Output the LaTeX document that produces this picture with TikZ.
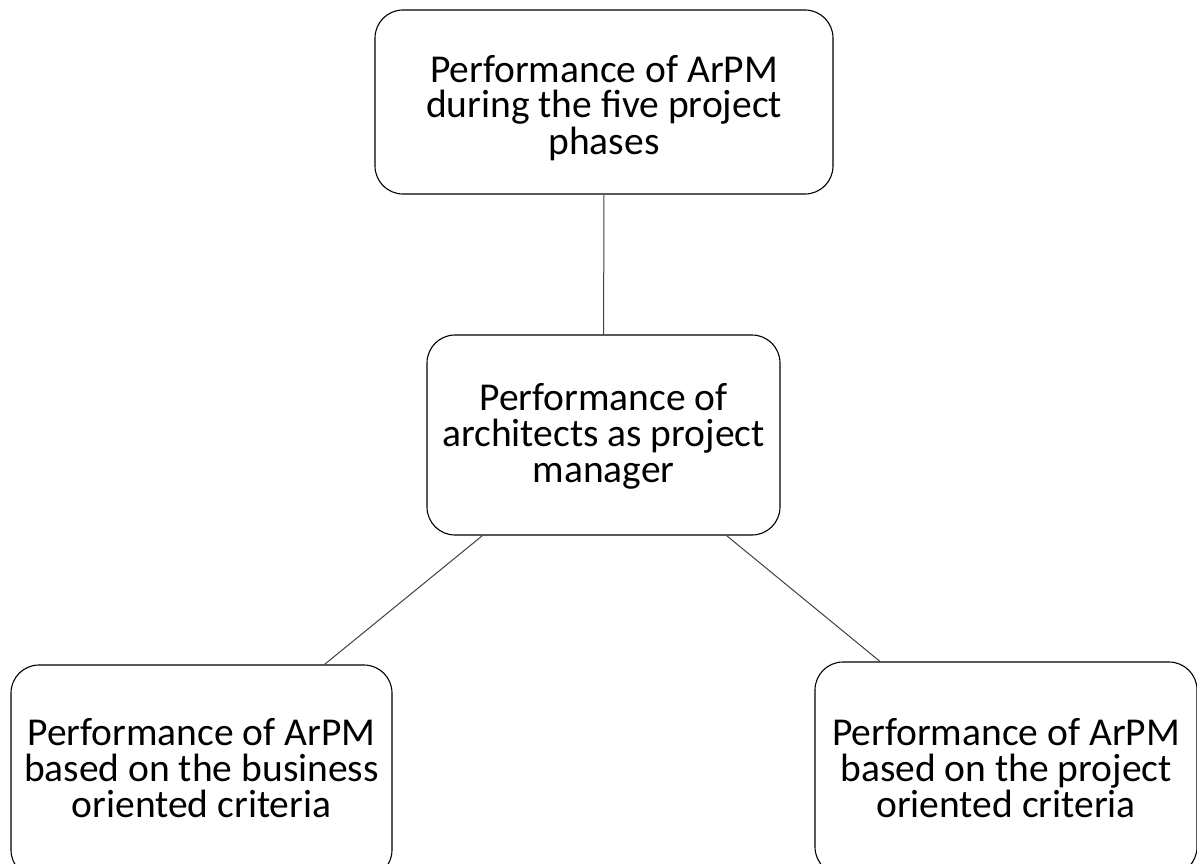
\documentclass[tikz,border=0pt]{standalone}
\usepackage{fontspec}
\setmainfont{Carlito}
\usetikzlibrary{calc}
\usetikzlibrary{positioning}

\begin{document}
\begin{tikzpicture}[
  x=1pt, y=-1pt,
  every path/.style={line width=1.1pt},
  perf/.style={draw, rounded corners=28pt, align=center, inner sep=0,
    font=\fontsize{39.5}{36}\selectfont, text depth=0pt},
  link/.style={draw=black!75, line width=1pt},
  auto
  ] %
    \useasboundingbox (0,0) rectangle (1197,864);
    \node[perf, minimum width=458pt, minimum height=184pt, text height=104pt](phases) at (604,102)
      {Performance of ArPM\\during the five project\\phases};
    \node[perf, minimum width=353pt, minimum height=200pt, text height=94pt](arch) at (603.5,435)
      {Performance of\\architects as project\\manager};
    \node[perf, minimum width=381pt, minimum height=213pt, text height=91pt](business) at (201.5,771.5)
      {Performance of ArPM\\based on the business\\oriented criteria};
    \node[perf, minimum width=382pt, minimum height=213pt, text height=97pt](project) at (1006,768.5)
      {Performance of ArPM\\based on the project\\oriented criteria};
    \draw[link](phases) -- (arch);
    \draw[link]([xshift=-121pt]arch.south) -- ([xshift=123pt]business.north);
    \draw[link]([xshift=123pt]arch.south) -- ([xshift=-126pt]project.north);
  \end{tikzpicture}
\end{document}
